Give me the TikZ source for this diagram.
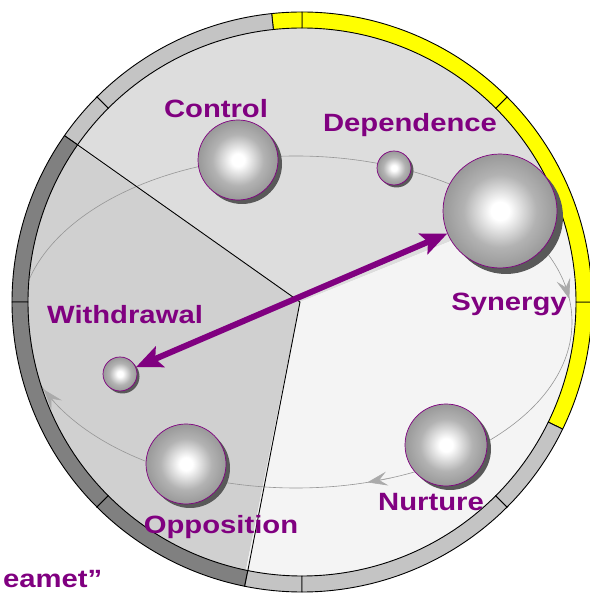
\documentclass[tikz,border=0pt]{standalone}
\usepackage{fontspec}
\newfontfamily\lblfont[FakeStretch=1.17]{Liberation Sans}
\usepackage{tikz}
\usetikzlibrary{
    arrows.meta,
    shadows,
    calc
}
\definecolor{plum}{RGB}{128,0,128}
\definecolor{ringyellow}{RGB}{255,255,0}
\definecolor{ringlight}{RGB}{196,196,196}
\definecolor{ringdark}{RGB}{128,128,128}
\definecolor{sectop}{RGB}{221,221,221}
\definecolor{secleft}{RGB}{208,208,208}
\definecolor{seclow}{RGB}{244,244,244}
\definecolor{orbitgray}{RGB}{150,150,150}
\definecolor{tipgray}{RGB}{170,170,170}
\pgfdeclareradialshading{sphereshade}{\pgfpoint{0bp}{0bp}}{color(0bp)=(white); color(4bp)=(white); color(16bp)=(black!30); color(34bp)=(black!50); color(50bp)=(black!62); color(72bp)=(black!62)}
\tikzstyle{lbl} = [text=plum, font=\lblfont\bfseries\fontsize{25}{30}\selectfont, inner sep=0pt, anchor=base]
\tikzstyle{orbit} = [draw=orbitgray, line width=0.6pt]
\tikzstyle{orbittip} = [-{Stealth[length=20pt, width=14pt, inset=8pt]}, draw=tipgray, line width=0.6pt]
\tikzstyle{seg} = [draw=black, line width=0.9pt]
\tikzstyle{link} = [{Stealth[length=26pt, width=22pt, inset=5pt]}-{Stealth[length=26pt, width=22pt, inset=5pt]}, draw=plum, line width=6pt]
\tikzset{sphere/.style={circle, draw=plum, line width=0.7pt, shading=sphereshade, inner sep=0pt,
    drop shadow={shadow xshift=#1, shadow yshift=-#1, fill=black!65, opacity=1}}}

\begin{document}
\begin{tikzpicture}[x=1pt,y=1pt]
    \useasboundingbox (0,0) rectangle (589,594);
    \coordinate (rim) at (302,292);
    \coordinate (hub) at (300,292);
    \coordinate (orb) at (296,272);
    \begin{scope}
        \clip (rim) circle (275);
        \fill[sectop] (hub) -- ++(22:400) arc[start angle=22, end angle=145, radius=400] -- cycle;
        \fill[secleft] (hub) -- ++(145:400) arc[start angle=145, end angle=258.6, radius=400] -- cycle;
        \fill[seclow] (hub) -- ++(258.6:400) arc[start angle=258.6, end angle=382, radius=400] -- cycle;
        \draw[orbit] (orb) ellipse [x radius=276, y radius=166];
    \end{scope}
    \draw[seg] (hub) -- ($(rim)+(145:274)$);
    \draw[seg] (hub) -- ($(rim)+(258.6:274)$);
    \foreach \a/\b/\c in {-26/0/ringyellow, 0/45/ringyellow, 45/90/ringyellow, 90/96/ringyellow,
        96/135/ringlight, 135/145/ringlight, 145/180/ringdark, 180/225/ringdark, 225/258.6/ringdark,
        258.6/270/ringlight, 270/315/ringlight, 315/334/ringlight}
        \filldraw[seg, fill=\c] ($(rim)+(\a:290)$) arc[start angle=\a, end angle=\b, radius=290]
            -- ($(rim)+(\b:274)$) arc[start angle=\b, end angle=\a, radius=274] -- cycle;
    \foreach \t in {8, -75, 204}
        \draw[orbittip] ($(orb)+({\t+5}:276 and 166)$) -- ($(orb)+(\t:276 and 166)$);

    \node[sphere=4pt, minimum size=80pt] (control) at (238,434) {};
    \node[sphere=2.5pt, minimum size=34pt] (dependence) at (394,426) {};
    \node[sphere=6pt, minimum size=114pt] (synergy) at (500,383) {};
    \node[sphere=2.5pt, minimum size=34pt] (withdrawal) at (120,220) {};
    \node[sphere=4pt, minimum size=80pt] (opposition) at (186,130) {};
    \node[sphere=4pt, minimum size=82pt] (nurture) at (446,149) {};
    \draw[link] (withdrawal) -- (synergy);

    \node[lbl] (lcontrol) at (216,476) {Control};
    \node[lbl] (ldependence) at (410,462) {Dependence};
    \node[lbl] (lsynergy) at (509,283) {Synergy};
    \node[lbl] (lwithdrawal) at (125,270) {Withdrawal};
    \node[lbl] (lopposition) at (221,60) {Opposition};
    \node[lbl] (lnurture) at (431,83) {Nurture};
    \node[lbl, anchor=base west] (lcut) at (3,6) {eamet”};
\end{tikzpicture}
\end{document}
